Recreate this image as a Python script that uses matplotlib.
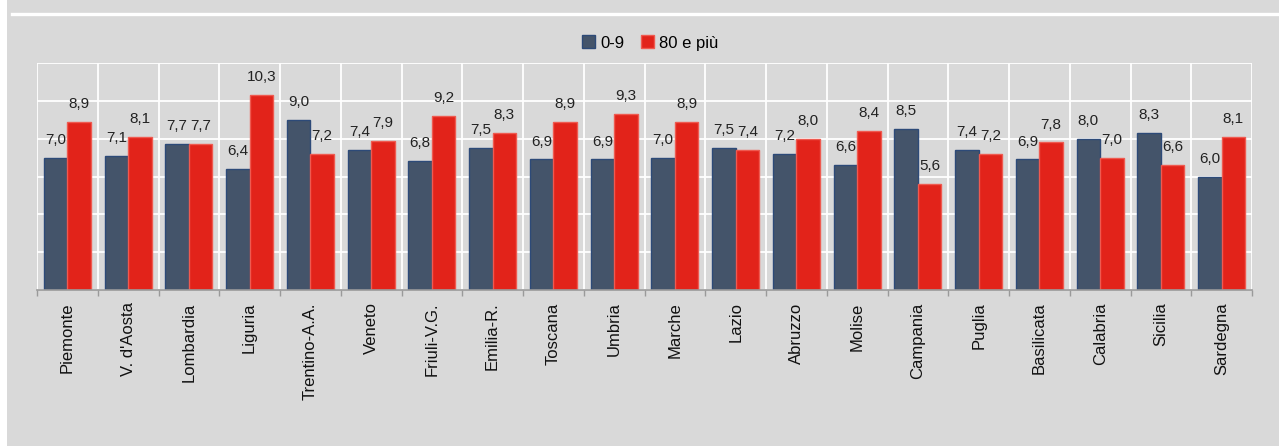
import matplotlib
matplotlib.use("Agg")
import matplotlib.pyplot as plt
import numpy as np
from matplotlib.patches import Rectangle
from matplotlib.lines import Line2D

# data
regions = ["Piemonte", "V. d'Aosta", "Lombardia", "Liguria", "Trentino-A.A.",
           "Veneto", "Friuli-V.G.", "Emilia-R.", "Toscana", "Umbria",
           "Marche", "Lazio", "Abruzzo", "Molise", "Campania",
           "Puglia", "Basilicata", "Calabria", "Sicilia", "Sardegna"]
age_0_9 = [7.0, 7.1, 7.7, 6.4, 9.0, 7.4, 6.8, 7.5, 6.9, 6.9,
           7.0, 7.5, 7.2, 6.6, 8.5, 7.4, 6.9, 8.0, 8.3, 6.0]
age_80 = [8.9, 8.1, 7.7, 10.3, 7.2, 7.9, 9.2, 8.3, 8.9, 9.3,
          8.9, 7.4, 8.0, 8.4, 5.6, 7.2, 7.8, 7.0, 6.6, 8.1]
series_names = ["0-9", "80 e più"]

# styling
bg = "#d9d9d9"
blue, blue_edge = "#44546a", "#2d4a78"
red, red_edge = "#e2231a", "#ef5a50"
plt.rcParams['font.family'] = ['Liberation Sans', 'DejaVu Sans']

fig = plt.figure(figsize=(12.79, 4.46), dpi=100)
fig.patch.set_facecolor(bg)

# white strip on the left and white line on top
fig.patches.append(Rectangle((0, 0), 7 / 1279, 1, transform=fig.transFigure,
                             facecolor="white", edgecolor="none", zorder=-1))
fig.lines.append(Line2D([12 / 1279, 1], [1 - 14 / 446] * 2, transform=fig.transFigure,
                        color="white", linewidth=2.4, zorder=-1))

ax = fig.add_axes([37 / 1279, 1 - 290 / 446, (1252 - 37) / 1279, (290 - 63) / 446])
ax.set_facecolor(bg)

x = np.arange(len(regions))
w = 0.385
b1 = ax.bar(x - w / 2, age_0_9, w, color=blue, edgecolor=blue_edge, linewidth=1, zorder=3,
            label=series_names[0])
b2 = ax.bar(x + w / 2, age_80, w, color=red, edgecolor=red_edge, linewidth=1, zorder=3,
            label=series_names[1])

# value labels with comma decimals
for bars, vals in ((b1, age_0_9), (b2, age_80)):
    for rect, v in zip(bars, vals):
        ax.annotate(f"{v:.1f}".replace('.', ','),
                    (rect.get_x() + rect.get_width() / 2, v),
                    xytext=(0, 10), textcoords="offset points",
                    ha="center", va="baseline", fontsize=11, color="#222222", zorder=4)

ax.set_xlim(-0.5, len(regions) - 0.5)
ax.set_ylim(0, 12)

# grid: horizontal every 2, vertical at category boundaries
ax.set_yticks(np.arange(0, 13, 2))
ax.set_xticks(x)
ax.set_xticks(np.arange(-0.5, len(regions), 1), minor=True)
ax.set_xticklabels(regions, rotation=90, fontsize=12, color="#111111")
ax.tick_params(axis="x", which="major", length=0, pad=9)
ax.tick_params(axis="x", which="minor", length=4, color="#9a9a9a", width=1)
ax.tick_params(axis="y", left=False, labelleft=False)
ax.grid(axis="y", color="white", linewidth=1.3, zorder=1)
ax.grid(axis="x", which="minor", color="white", linewidth=1.3, zorder=1)
ax.set_axisbelow(True)

for s in ("top", "left", "right"):
    ax.spines[s].set_visible(False)
ax.spines["bottom"].set_color("#9a9a9a")
ax.spines["bottom"].set_linewidth(1.2)
ax.spines["bottom"].set_zorder(5)

fig.legend(handles=[b1, b2], labels=series_names, loc="center",
           bbox_to_anchor=(650 / 1279, 1 - 43 / 446), ncol=2, frameon=False,
           fontsize=12, handlelength=0.8, handleheight=0.8, handletextpad=0.3,
           columnspacing=1.0)

fig.savefig("out.png", dpi=100, facecolor=fig.get_facecolor())
